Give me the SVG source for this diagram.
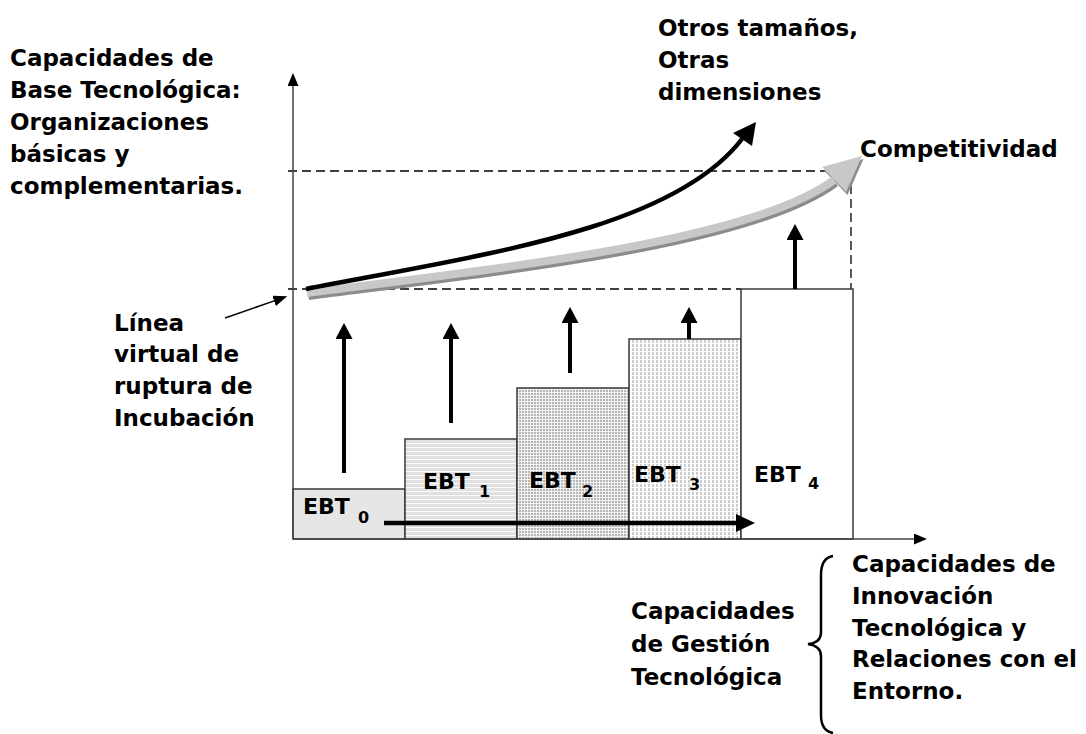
<svg xmlns="http://www.w3.org/2000/svg" width="1086" height="734" viewBox="0 0 1086 734">
<style>
text{font-family:"DejaVu Sans","Liberation Sans",sans-serif;font-weight:bold;fill:#000}
.lbl{font-size:23px}
.ebt{font-size:22px}
.sub{font-size:16px}
.dash{stroke:#000;stroke-width:1.3;stroke-dasharray:9 5;fill:none}
.bar{stroke:#3a3a3a;stroke-width:1.5}
.up{stroke:#000;stroke-width:4;fill:none;marker-end:url(#ah)}
.axis{stroke:#444;stroke-width:1.5;fill:none;marker-end:url(#axh)}
</style>
<defs>
<marker id="ah" viewBox="0 0 16 17" refX="1" refY="8.5" markerWidth="16" markerHeight="17" markerUnits="userSpaceOnUse" orient="auto"><path d="M0,0L16,8.5L0,17z" fill="#000"/></marker>
<marker id="ahb" viewBox="0 0 19 18" refX="1" refY="9" markerWidth="19" markerHeight="18" markerUnits="userSpaceOnUse" orient="auto"><path d="M0,0L19,9L0,18z" fill="#000"/></marker>
<marker id="axh" viewBox="0 0 13 11" refX="1" refY="5.5" markerWidth="13" markerHeight="11" markerUnits="userSpaceOnUse" orient="auto"><path d="M0,0L13,5.5L0,11z" fill="#000"/></marker>
<marker id="ptr" viewBox="0 0 14 11" refX="1" refY="5.5" markerWidth="14" markerHeight="11" markerUnits="userSpaceOnUse" orient="auto"><path d="M0,0L14,5.5L0,11z" fill="#000"/></marker>
<pattern id="pH" width="6" height="4" patternUnits="userSpaceOnUse"><rect width="6" height="4" fill="#e0e0e0"/><rect y="3" width="6" height="1" fill="#fafafa"/></pattern>
<pattern id="pV2" width="3" height="3" patternUnits="userSpaceOnUse"><rect width="3" height="3" fill="#f2f2f2"/><rect width="2" height="2" fill="#b6b6b6"/></pattern>
<pattern id="pV3" width="4" height="4" patternUnits="userSpaceOnUse"><rect width="4" height="4" fill="#ffffff"/><rect width="2" height="3" fill="#cdcdcd"/></pattern>
</defs>

<g id="guides">
<line class="dash" x1="288" y1="171" x2="851" y2="171"/>
<line class="dash" x1="288" y1="289" x2="741" y2="289"/>
<line class="dash" x1="851" y1="171" x2="851" y2="289"/>
</g>

<g id="ebt0">
<rect class="bar" x="293" y="489" width="112" height="50" fill="#e6e6e6"/>
<text class="ebt" x="303" y="514">EBT</text><text class="sub" x="358" y="523">0</text>
</g>
<g id="ebt1">
<rect class="bar" x="405" y="439" width="112" height="100" fill="url(#pH)"/>
<text class="ebt" x="423" y="489">EBT</text><text class="sub" x="479" y="497">1</text>
</g>
<g id="ebt2">
<rect class="bar" x="517" y="388" width="112" height="151" fill="url(#pV2)"/>
<text class="ebt" x="529" y="488">EBT</text><text class="sub" x="582" y="497">2</text>
</g>
<g id="ebt3">
<rect class="bar" x="629" y="339" width="112" height="200" fill="url(#pV3)"/>
<text class="ebt" x="634" y="482">EBT</text><text class="sub" x="689" y="490">3</text>
</g>
<g id="ebt4">
<rect class="bar" x="741" y="289" width="112" height="250" fill="#ffffff"/>
<text class="ebt" x="754" y="482">EBT</text><text class="sub" x="808" y="489">4</text>
</g>

<g id="connectors">
<line class="axis" x1="293" y1="539" x2="293" y2="85"/>
<line class="axis" x1="293" y1="539" x2="915" y2="539"/>
<line class="up" x1="344" y1="473" x2="344" y2="338"/>
<line class="up" x1="451" y1="423" x2="451" y2="338"/>
<line class="up" x1="570" y1="373" x2="570" y2="322"/>
<line class="up" x1="689" y1="339" x2="689" y2="322"/>
<line class="up" x1="795" y1="289" x2="795" y2="239"/>
<line x1="384" y1="523" x2="737" y2="523" stroke="#000" stroke-width="4.5" marker-end="url(#ahb)"/>
<line x1="225" y1="318" x2="275" y2="300.6" stroke="#000" stroke-width="1.5" marker-end="url(#ptr)"/>
<g id="competitividad-arrow">
<g transform="translate(1.5,3)" fill="#8c8c8c" stroke="#8c8c8c">
<path d="M307,293 C500,268 750,242 834,180" fill="none" stroke-width="8"/>
<polygon points="862,156 822,167 846,192" stroke="none"/>
</g>
<path d="M307,293 C500,268 750,242 834,180" fill="none" stroke="#c8c8c8" stroke-width="8"/>
<polygon points="862,156 822,167 846,192" fill="#c8c8c8"/>
</g>
<g id="otros-arrow">
<path d="M306,289 C480,255 672,230 742,139" fill="none" stroke="#000" stroke-width="4.5"/>
<polygon points="756,122 733,133 752,146" fill="#000"/>
</g>
<path id="brace" d="M833,556 Q821,558 821,575 L821,632 Q821,643 808,644 Q821,646 821,656 L821,715 Q821,731 833,733" fill="none" stroke="#000" stroke-width="2.5"/>
</g>

<g id="label-base">
<text class="lbl" x="10" y="66">Capacidades de</text>
<text class="lbl" x="10" y="98">Base Tecnológica:</text>
<text class="lbl" x="10" y="130">Organizaciones</text>
<text class="lbl" x="10" y="162">básicas y</text>
<text class="lbl" x="10" y="194">complementarias.</text>
</g>
<g id="label-linea">
<text class="lbl" x="114" y="331">Línea</text>
<text class="lbl" x="114" y="362">virtual de</text>
<text class="lbl" x="114" y="394">ruptura de</text>
<text class="lbl" x="114" y="426">Incubación</text>
</g>
<g id="label-otros">
<text class="lbl" x="658" y="36">Otros tamaños,</text>
<text class="lbl" x="658" y="68">Otras</text>
<text class="lbl" x="658" y="100">dimensiones</text>
</g>
<g id="label-competitividad">
<text class="lbl" x="860" y="157">Competitividad</text>
</g>
<g id="label-gestion">
<text class="lbl" x="631" y="619">Capacidades</text>
<text class="lbl" x="631" y="652">de Gestión</text>
<text class="lbl" x="631" y="685">Tecnológica</text>
</g>
<g id="label-innovacion">
<text class="lbl" x="852" y="572">Capacidades de</text>
<text class="lbl" x="852" y="604">Innovación</text>
<text class="lbl" x="852" y="636">Tecnológica y</text>
<text class="lbl" x="852" y="667">Relaciones con el</text>
<text class="lbl" x="852" y="699">Entorno.</text>
</g>
</svg>
